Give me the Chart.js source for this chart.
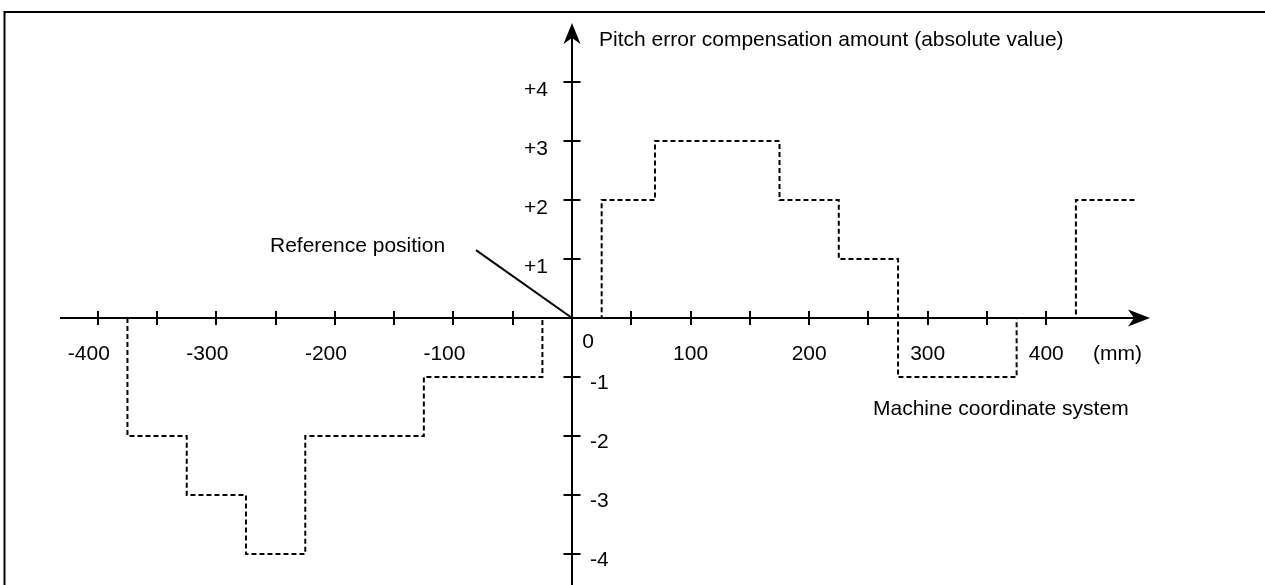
<!DOCTYPE html>
<html>
<head>
<meta charset="utf-8">
<script src="https://cdn.jsdelivr.net/npm/chart.js@4"></script>
<style>
    html, body { margin: 0; padding: 0; background: #ffffff; overflow: hidden; }
    .chart-wrp { position: relative; width: 1265px; height: 585px; }
</style>
</head>
<body>
<div class="chart-wrp"><canvas id="mycanvas"></canvas></div>
<script>
// step positions (mm) and the compensation amount that starts there
const stepX = [-375, -375, -325, -275, -225, -125, -25, 25, 70, 175, 225, 275, 375, 425, 475];
const stepValue = [0, -2, -3, -4, -2, -1, 0, 2, 3, 2, 1, -1, 0, 2, 2];

// tick marks and labels
const xTickMarks = [-400, -350, -300, -250, -200, -150, -100, -50, 50, 100, 150, 200, 250, 300, 350, 400];
const xTickLabels = [-400, -300, -200, -100, 100, 200, 300, 400];
const yTickMarks = [-4, -3, -2, -1, 1, 2, 3, 4];
const yTickLabels = ['-4', '-3', '-2', '-1', '+1', '+2', '+3', '+4'];

// leader line for the reference position
const refLineX = [-81, 0];
const refLineY = [1.15, 0];

const xTitle = 'Machine coordinate system';
const xUnit = '(mm)';
const yTitle = 'Pitch error compensation amount (absolute value)';
const refText = 'Reference position';

const FONT = '21px "Liberation Sans", Arial, sans-serif';

function createChart() {
    const ctx = document.getElementById('mycanvas').getContext('2d');

    const axesPlugin = {
        id: 'axesPlugin',
        beforeDatasetsDraw: chart => {
            const c = chart.ctx;
            const xs = chart.scales.x;
            const ys = chart.scales.y;
            const ox = Math.round(xs.getPixelForValue(0));
            const oy = Math.round(ys.getPixelForValue(0));
            c.save();
            c.strokeStyle = '#000000';
            c.fillStyle = '#000000';
            c.lineWidth = 2;

            // frame (top + left)
            c.beginPath();
            c.moveTo(4.5, chart.height);
            c.lineTo(4.5, 12);
            c.lineTo(chart.width, 12);
            c.stroke();

            // x axis
            const xLeft = xs.getPixelForValue(-432);
            const xTip = xs.getPixelForValue(487.5);
            c.beginPath();
            c.moveTo(xLeft, oy);
            c.lineTo(xTip - 10, oy);
            c.stroke();
            c.beginPath();
            c.moveTo(xTip, oy);
            c.lineTo(xTip - 22, oy - 8.5);
            c.lineTo(xTip - 16, oy);
            c.lineTo(xTip - 22, oy + 8.5);
            c.closePath();
            c.fill();

            // y axis
            const yTip = ys.getPixelForValue(5.0);
            c.beginPath();
            c.moveTo(ox, chart.height);
            c.lineTo(ox, yTip + 10);
            c.stroke();
            c.beginPath();
            c.moveTo(ox, yTip);
            c.lineTo(ox - 8.5, yTip + 21);
            c.lineTo(ox, yTip + 15);
            c.lineTo(ox + 8.5, yTip + 21);
            c.closePath();
            c.fill();

            // tick marks
            c.beginPath();
            xTickMarks.forEach(v => {
                const px = Math.round(xs.getPixelForValue(v));
                c.moveTo(px, oy - 7);
                c.lineTo(px, oy + 7);
            });
            yTickMarks.forEach(v => {
                const py = Math.round(ys.getPixelForValue(v));
                c.moveTo(ox - 8.5, py);
                c.lineTo(ox + 8.5, py);
            });
            c.stroke();
            c.restore();
        },
        afterDraw: chart => {
            const c = chart.ctx;
            const xs = chart.scales.x;
            const ys = chart.scales.y;
            const ox = xs.getPixelForValue(0);
            const oy = ys.getPixelForValue(0);
            c.save();
            c.fillStyle = '#000000';
            c.font = FONT;
            c.textBaseline = 'middle';

            // x tick labels
            xTickLabels.forEach(v => {
                const px = xs.getPixelForValue(v);
                if (v < 0) {
                    c.textAlign = 'right';
                    c.fillText(String(v), px + 12, oy + 36);
                } else {
                    c.textAlign = 'center';
                    c.fillText(String(v), px, oy + 36);
                }
            });
            c.textAlign = 'center';
            c.fillText('0', ox + 16, oy + 24);
            c.fillText(xUnit, xs.getPixelForValue(460), oy + 36);

            // y tick labels: positives left, negatives right
            yTickMarks.forEach((v, i) => {
                const py = ys.getPixelForValue(v);
                if (v > 0) {
                    c.textAlign = 'right';
                    c.fillText(yTickLabels[i], ox - 24, py + 8);
                } else {
                    c.textAlign = 'left';
                    c.fillText(yTickLabels[i], ox + 18, py + 6);
                }
            });

            // titles
            c.textAlign = 'left';
            c.fillText(yTitle, ox + 27, 40);
            c.fillText(xTitle, 873, oy + 91);
            c.fillText(refText, 270, 246);
            c.restore();
        }
    };

    const stepPoints = stepX.map((x, i) => ({ x: x, y: stepValue[i] }));
    const refPoints = refLineX.map((x, i) => ({ x: x, y: refLineY[i] }));

    const myChart = new Chart(ctx, {
        type: 'scatter',
        data: {
            datasets: [{
                data: stepPoints,
                showLine: true,
                stepped: 'before',
                borderColor: '#000000',
                borderWidth: 2,
                borderDash: [5, 3],
                pointRadius: 0,
                fill: false,
            },
            {
                data: refPoints,
                showLine: true,
                borderColor: '#000000',
                borderWidth: 2,
                pointRadius: 0,
                fill: false,
            }]
        },
        options: {
            responsive: true,
            maintainAspectRatio: false,
            animation: false,
            events: [],
            layout: { padding: 0 },
            plugins: {
                legend: { display: false },
                tooltip: { enabled: false },
            },
            scales: {
                x: {
                    type: 'linear',
                    min: -482.5,
                    max: 584.5,
                    display: false,
                },
                y: {
                    type: 'linear',
                    min: -267 / 59,
                    max: 318 / 59,
                    display: false,
                },
            },
        },
        plugins: [axesPlugin],
    });
}

createChart();
</script>
</body>
</html>
